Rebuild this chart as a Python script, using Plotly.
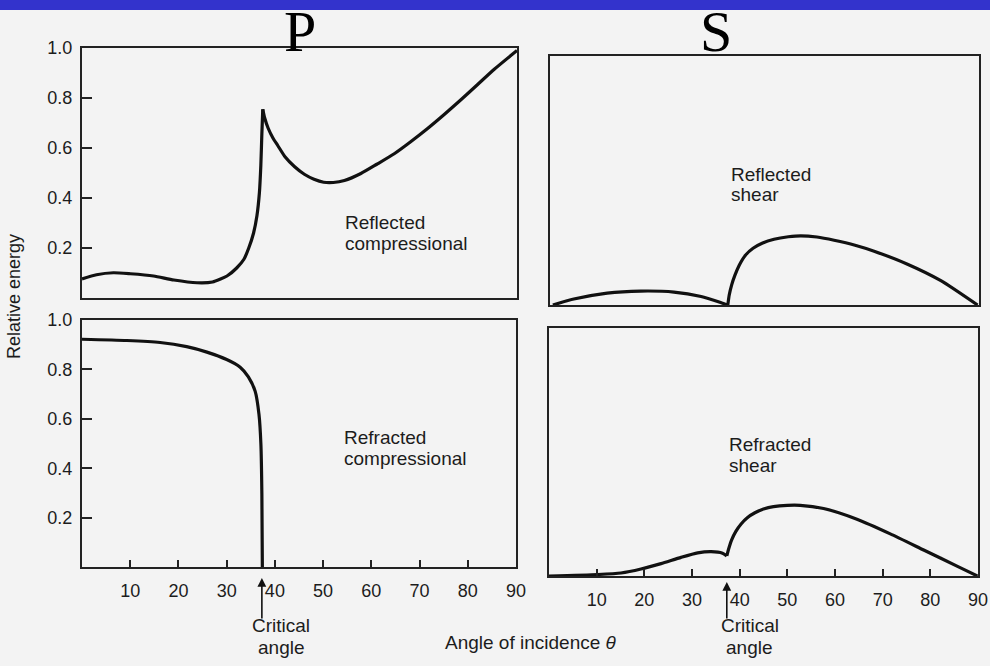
import plotly.graph_objects as go

# ---------------- data ----------------
critical_angle = 37.3

# P – reflected compressional
p_refl_angle = [0, 3, 6.5, 10, 14.8, 19, 23.8, 27, 30, 32, 33.5, 34.5, 35.5, 36.2, 36.7, 37.0, 37.2, 37.4,
                37.8, 38.5, 39.5, 40.5, 42, 44, 46, 48, 50, 52, 54.3, 57.7, 61, 64.6, 68, 71.5, 75, 78.4,
                81.8, 85.3, 90]
p_refl_energy = [0.076, 0.093, 0.101, 0.097, 0.088, 0.072, 0.061, 0.064, 0.088, 0.12, 0.155, 0.2, 0.26, 0.33,
                 0.42, 0.53, 0.65, 0.755,
                 0.72, 0.68, 0.64, 0.61, 0.565, 0.525, 0.495, 0.475, 0.463, 0.462, 0.47, 0.498, 0.535, 0.577,
                 0.625, 0.678, 0.735, 0.793, 0.853, 0.915, 0.99]

# P – refracted compressional
p_refr_angle = [0, 9.3, 16.2, 21.7, 25.9, 30.0, 32.8, 34.5, 35.9, 36.7, 37.1, 37.3, 37.4]
p_refr_energy = [0.922, 0.917, 0.909, 0.892, 0.870, 0.840, 0.809, 0.770, 0.712, 0.618, 0.497, 0.295, 0.0]

# S – reflected shear
s_refl_angle = [0.6, 5.0, 12.0, 19.0, 26.0, 31.7, 35.8, 37.3,
                37.6, 38.1, 38.8, 39.7, 41.0, 42.6, 44.5, 47, 50, 52.6, 56, 59.6, 64, 68.0, 75.0, 82.0, 89.7]
s_refl_energy = [0.0, 0.024, 0.048, 0.056, 0.052, 0.034, 0.010, 0.0,
                 0.04, 0.08, 0.12, 0.16, 0.2, 0.228, 0.248, 0.264, 0.274, 0.278, 0.273, 0.26, 0.24, 0.216,
                 0.164, 0.098, 0.0]

# S – refracted shear
s_refr_angle = [0, 10.2, 15.1, 19.3, 23.5, 27.7, 31.2, 34.0, 36.4, 37.3,
                37.7, 38.3, 39.2, 40.3, 41.6, 43.2, 45, 47.1, 50, 52.7, 57.6, 64.6, 71.6, 78.6, 85.7, 89.9]
s_refr_energy = [0.0, 0.006, 0.012, 0.028, 0.05, 0.075, 0.093, 0.098, 0.092, 0.081,
                 0.11, 0.145, 0.18, 0.21, 0.235, 0.255, 0.27, 0.28, 0.285, 0.285, 0.272, 0.229, 0.17,
                 0.105, 0.039, 0.0]

x_tick_vals = [10, 20, 30, 40, 50, 60, 70, 80, 90]
x_tick_text = ["10", "20", "30", "40", "50", "60", "70", "80", "90"]
y_tick_vals = [0.2, 0.4, 0.6, 0.8, 1.0]
y_tick_text = ["0.2", "0.4", "0.6", "0.8", "1.0"]

panel_titles = ["P", "S"]
panel_label_lines = [["Reflected", "compressional"], ["Refracted", "compressional"],
                     ["Reflected", "shear"], ["Refracted", "shear"]]
critical_label_lines = ["Critical", "angle"]
x_title = "Angle of incidence <i>θ</i>"
y_title = "Relative energy"

# ---------------- figure ----------------
W, H = 990, 666
BG = "#f3f3f3"
INK = "#1c1c1c"
SANS = "Liberation Sans, Arial, sans-serif"


def px_x(p):
    return p / W


def px_y(p):
    return 1 - p / H


fig = go.Figure()


def add_curve(xs, ys, xa, ya, split=None):
    segs = []
    if split is None:
        segs.append((xs, ys))
    else:
        i = min(range(len(xs)), key=lambda k: abs(xs[k] - split))
        segs.append((xs[:i + 1], ys[:i + 1]))
        segs.append((xs[i:], ys[i:]))
    for sx, sy in segs:
        fig.add_trace(go.Scatter(x=sx, y=sy, mode="lines", xaxis=xa, yaxis=ya,
                                 line=dict(color="#111111", width=3.2, shape="spline", smoothing=0.6),
                                 showlegend=False, hoverinfo="skip"))


add_curve(p_refl_angle, p_refl_energy, "x", "y", split=37.4)
add_curve(p_refr_angle, p_refr_energy, "x3", "y3")
add_curve(s_refl_angle, s_refl_energy, "x2", "y2", split=critical_angle)
add_curve(s_refr_angle, s_refr_energy, "x4", "y4", split=critical_angle)

frame = dict(showline=True, linecolor="#222222", linewidth=2, mirror=True, automargin=False,
             showgrid=False, zeroline=False, fixedrange=True)
tickfont = dict(family=SANS, size=18, color=INK)

layout = dict(
    width=W, height=H,
    margin=dict(l=0, r=0, t=0, b=0, pad=0, autoexpand=False),
    paper_bgcolor=BG, plot_bgcolor=BG,
    showlegend=False,
    xaxis=dict(domain=[px_x(82), px_x(517)], range=[0, 90], anchor="y",
               showticklabels=False, ticks="", **frame),
    yaxis=dict(domain=[px_y(298), px_y(48)], range=[0, 1], anchor="x",
               tickvals=y_tick_vals, ticktext=y_tick_text, ticks="inside", ticklen=10,
               tickwidth=2, tickcolor="#222222", tickfont=tickfont, ticklabelstandoff=4, **frame),
    xaxis2=dict(domain=[px_x(550), px_x(979)], range=[0, 90], anchor="y2",
                showticklabels=False, ticks="", **frame),
    yaxis2=dict(domain=[px_y(305), px_y(56)], range=[0, 1], anchor="x2",
                showticklabels=False, ticks="", **frame),
    xaxis3=dict(domain=[px_x(82), px_x(516)], range=[0, 90], anchor="y3",
                tickvals=x_tick_vals, ticktext=x_tick_text, ticks="inside", ticklen=7,
                tickwidth=2, tickcolor="#222222", tickfont=tickfont, ticklabelstandoff=6, **frame),
    yaxis3=dict(domain=[px_y(567), px_y(320)], range=[0, 1], anchor="x3",
                tickvals=y_tick_vals, ticktext=y_tick_text, ticks="inside", ticklen=10,
                tickwidth=2, tickcolor="#222222", tickfont=tickfont, ticklabelstandoff=4, **frame),
    xaxis4=dict(domain=[px_x(549), px_x(978)], range=[0, 90], anchor="y4",
                tickvals=x_tick_vals, ticktext=x_tick_text, ticks="inside", ticklen=7,
                tickwidth=2, tickcolor="#222222", tickfont=tickfont, ticklabelstandoff=6, **frame),
    yaxis4=dict(domain=[px_y(576), px_y(328)], range=[0, 1], anchor="x4",
                showticklabels=False, ticks="", **frame),
)
fig.update_layout(**layout)

# blue band at the top
fig.add_shape(type="rect", xref="paper", yref="paper", x0=0, x1=1, y0=px_y(10), y1=1,
              fillcolor="#3333cc", line=dict(width=0), layer="above")

ann = []
label_font = dict(family=SANS, size=19, color=INK)
for txt, cx in zip(panel_titles, (300, 716)):
    ann.append(dict(text=txt, xref="paper", yref="paper", x=px_x(cx), y=px_y(31),
                    xanchor="center", yanchor="middle", showarrow=False,
                    font=dict(family="Liberation Serif, Times New Roman, serif", size=58, color="#000000")))

label_places = [("x", "y", 54.1, (0.304, 0.220)),
                ("x3", "y3", 53.9, (0.526, 0.441)),
                ("x2", "y2", 37.5, (0.524, 0.442)),
                ("x4", "y4", 37.3, (0.532, 0.444))]
for lines, (xr, yr, xv, yvs) in zip(panel_label_lines, label_places):
    for line, yv in zip(lines, yvs):
        ann.append(dict(text=line, xref=xr, yref=yr, x=xv, y=yv, xanchor="left", yanchor="middle",
                        showarrow=False, font=label_font))

for xr, tip in (("x3", 578), ("x4", 582)):
    ann.append(dict(text="", xref=xr, yref="paper", x=critical_angle, y=px_y(tip),
                    showarrow=True, ax=0, ay=620 - tip, arrowhead=2, arrowsize=1.1,
                    arrowwidth=1.6, arrowcolor="#111111"))
for xr, cx in (("x3", 41.3), ("x4", 42.1)):
    for line, yp in zip(critical_label_lines, (625, 647)):
        ann.append(dict(text=line, xref=xr, yref="paper", x=cx, y=px_y(yp),
                        xanchor="center", yanchor="middle", showarrow=False, font=label_font))

ann.append(dict(text=x_title, xref="paper", yref="paper",
                x=px_x(531), y=px_y(642), xanchor="center", yanchor="middle",
                showarrow=False, font=label_font))
ann.append(dict(text=y_title, xref="paper", yref="paper", x=px_x(14), y=px_y(297),
                xanchor="center", yanchor="middle", textangle=-90, showarrow=False,
                font=dict(family=SANS, size=18, color=INK)))

fig.update_layout(annotations=ann)
fig.write_html(
    "out.html", config={"displayModeBar": False},
    post_script=(
        "document.body.style.margin='0';document.body.style.padding='0';"
        "document.documentElement.style.background='" + BG + "';"
        "document.body.style.background='" + BG + "';"
        "var gd=document.getElementById('{plot_id}');"
        "gd.style.position='fixed';gd.style.top='0px';gd.style.left='0px';"
    ),
)
